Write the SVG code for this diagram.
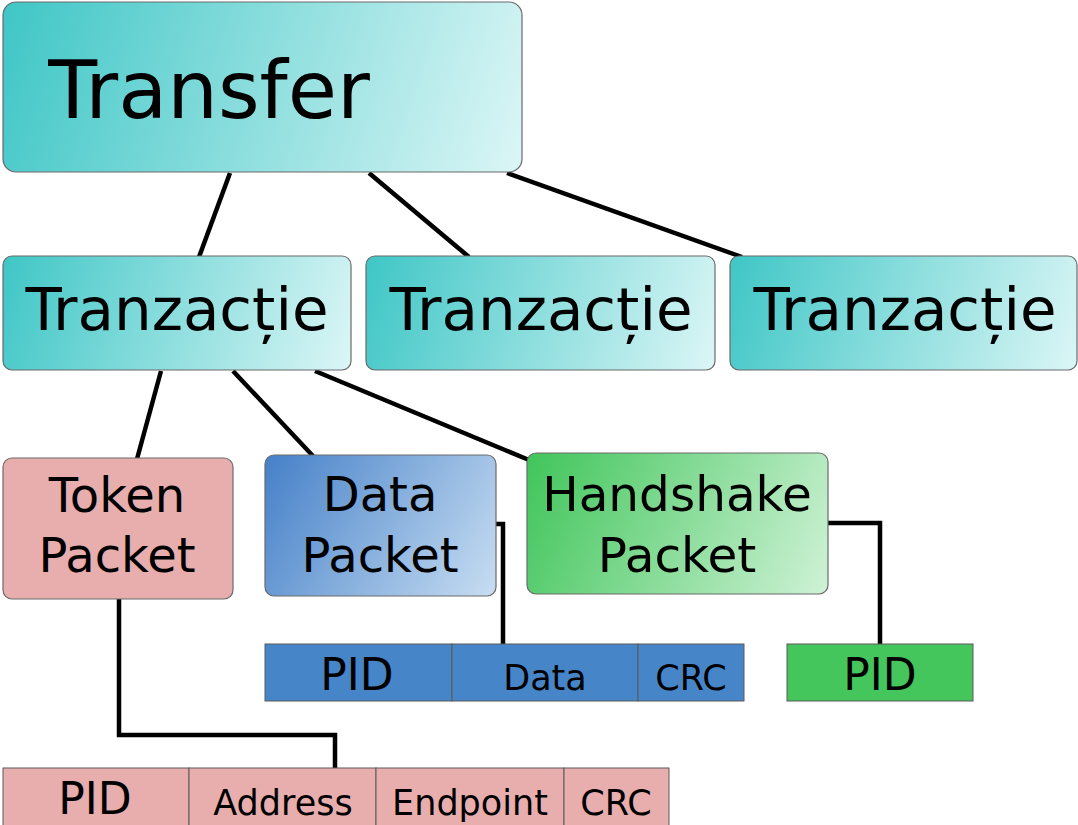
<svg xmlns="http://www.w3.org/2000/svg" width="1078" height="825" viewBox="0 0 1078 825">
  <defs>
    <!-- diagonal fills, laid out in user space per box so the colour bands run at 45° -->
    <linearGradient id="gTeal" gradientUnits="userSpaceOnUse" x1="3" y1="2" x2="522" y2="172">
      <stop offset="0" stop-color="#3fc6c6"/>
      <stop offset="1" stop-color="#dcf6f6"/>
    </linearGradient>
    <linearGradient id="gTeal1" href="#gTeal" x1="3" y1="256" x2="351" y2="370"/>
    <linearGradient id="gTeal2" href="#gTeal" x1="366" y1="256" x2="715" y2="370"/>
    <linearGradient id="gTeal3" href="#gTeal" x1="730" y1="256" x2="1077" y2="370"/>
    <linearGradient id="gBlue" gradientUnits="userSpaceOnUse" x1="265" y1="455" x2="496" y2="596">
      <stop offset="0" stop-color="#4580c8"/>
      <stop offset="1" stop-color="#c8def2"/>
    </linearGradient>
    <linearGradient id="gGreen" gradientUnits="userSpaceOnUse" x1="527" y1="453" x2="828" y2="594">
      <stop offset="0" stop-color="#40c55a"/>
      <stop offset="1" stop-color="#cff2d6"/>
    </linearGradient>
    <style>
      text { font-family: "DejaVu Sans", "Liberation Sans", sans-serif; fill: #000; text-anchor: middle; }
      .box { stroke: #6a6a6a; stroke-width: 1.2; }
      .cell { stroke: #5a5a5a; stroke-width: 1; }
      .link { fill: none; stroke: #000; stroke-width: 4.5; stroke-linejoin: miter; }
      .blue { fill: #4785c9; }
      .green { fill: #45c65c; }
      .pink { fill: #e8aeae; }
    </style>
  </defs>
  <rect width="1078" height="825" fill="#fff"/>

  <!-- connectors -->
  <g id="connectors">
    <line class="link" x1="230" y1="173" x2="199" y2="257"/>
    <line class="link" x1="369" y1="173" x2="469" y2="257"/>
    <line class="link" x1="507" y1="173" x2="742" y2="257"/>
    <line class="link" x1="161" y1="371" x2="137" y2="459"/>
    <line class="link" x1="233" y1="371" x2="313" y2="456"/>
    <line class="link" x1="315" y1="371" x2="529" y2="460"/>
    <polyline class="link" points="496,524 503,524 503,644"/>
    <polyline class="link" points="828,523 880,523 880,644"/>
    <polyline class="link" points="119,599 119,735 335,735 335,768"/>
  </g>

  <!-- transfer -->
  <g id="transfer">
    <rect class="box" x="3" y="2" width="519" height="170" rx="13" fill="url(#gTeal)"/>
    <text x="209" y="118" font-size="80">Transfer</text>
  </g>

  <!-- transactions -->
  <g id="tranzactie1">
    <rect class="box" x="3" y="256" width="348" height="114" rx="9" fill="url(#gTeal1)"/>
    <text x="177" y="330" font-size="59.5">Tranzacție</text>
  </g>
  <g id="tranzactie2">
    <rect class="box" x="366" y="256" width="349" height="114" rx="9" fill="url(#gTeal2)"/>
    <text x="541" y="330" font-size="59.5">Tranzacție</text>
  </g>
  <g id="tranzactie3">
    <rect class="box" x="730" y="256" width="347" height="114" rx="9" fill="url(#gTeal3)"/>
    <text x="905" y="330" font-size="59.5">Tranzacție</text>
  </g>

  <!-- packets -->
  <g id="token-packet">
    <rect class="box pink" x="3" y="458" width="230" height="141" rx="9"/>
    <text x="117" y="512" font-size="48">Token</text>
    <text x="117" y="572" font-size="48">Packet</text>
  </g>
  <g id="data-packet">
    <rect class="box" x="265" y="455" width="231" height="141" rx="9" fill="url(#gBlue)"/>
    <text x="380" y="511" font-size="48">Data</text>
    <text x="380" y="572" font-size="48">Packet</text>
  </g>
  <g id="handshake-packet">
    <rect class="box" x="527" y="453" width="301" height="141" rx="9" fill="url(#gGreen)"/>
    <text x="677" y="511" font-size="48.5">Handshake</text>
    <text x="677" y="572" font-size="48.5">Packet</text>
  </g>

  <!-- data packet fields -->
  <g id="data-fields">
    <rect class="cell blue" x="265" y="644" width="187" height="57"/>
    <rect class="cell blue" x="452" y="644" width="186" height="57"/>
    <rect class="cell blue" x="638" y="644" width="106" height="57"/>
    <text x="357" y="690" font-size="44">PID</text>
    <text x="545" y="690" font-size="35">Data</text>
    <text x="691" y="690" font-size="35">CRC</text>
  </g>

  <!-- handshake packet fields -->
  <g id="handshake-fields">
    <rect class="cell green" x="787" y="644" width="186" height="57"/>
    <text x="880" y="690" font-size="44">PID</text>
  </g>

  <!-- token packet fields -->
  <g id="token-fields">
    <rect class="cell pink" x="3" y="768" width="186" height="60"/>
    <rect class="cell pink" x="189" y="768" width="187" height="60"/>
    <rect class="cell pink" x="376" y="768" width="188" height="60"/>
    <rect class="cell pink" x="564" y="768" width="105" height="60"/>
    <text x="95" y="814" font-size="44">PID</text>
    <text x="283" y="815" font-size="35">Address</text>
    <text x="470" y="815" font-size="35">Endpoint</text>
    <text x="616" y="815" font-size="35">CRC</text>
  </g>
</svg>
